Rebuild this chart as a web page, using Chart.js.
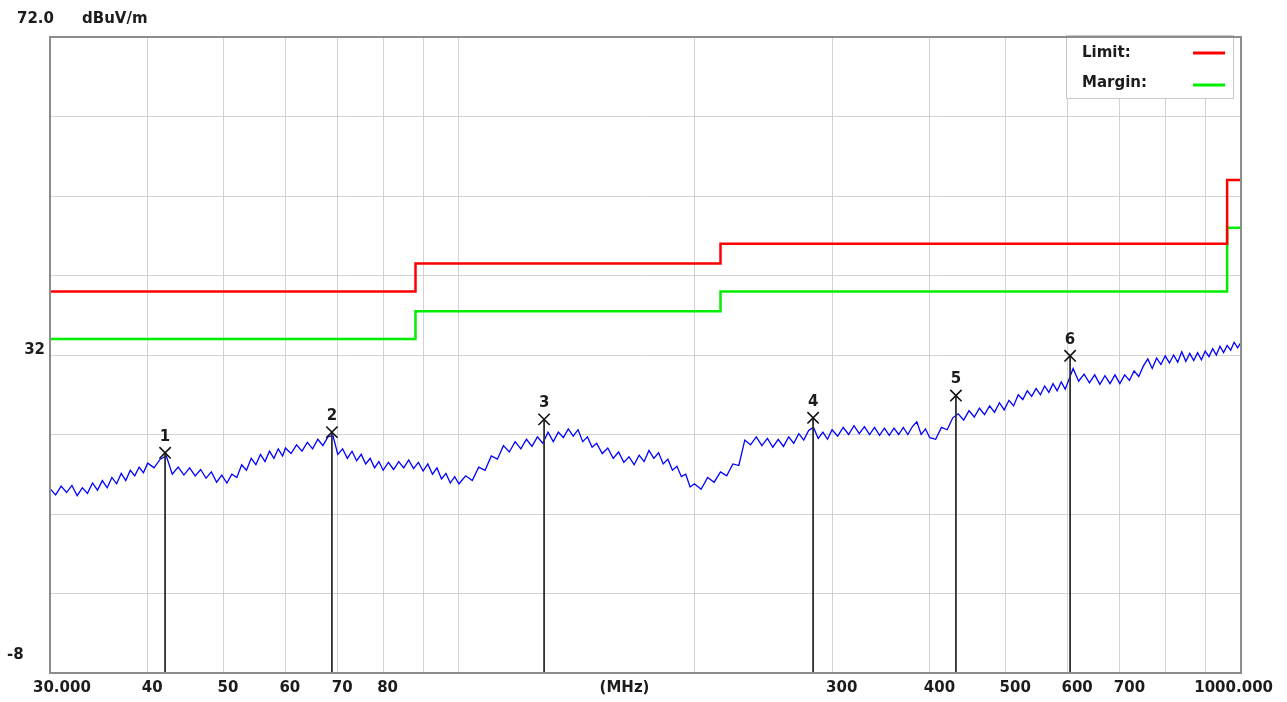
<!DOCTYPE html>
<html>
<head>
<meta charset="utf-8">
<script src="https://cdn.jsdelivr.net/npm/chart.js@4.4.1/dist/chart.umd.min.js"></script>
<style>
  html, body { margin: 0; padding: 0; background: #fff; }
  #wrap { width: 1287px; height: 702px; }
</style>
</head>
<body>
<div id="wrap"><canvas id="plot" width="1287" height="702"></canvas></div>
<script>
// grid + tick labels
const xGrid = [30, 40, 50, 60, 70, 80, 90, 100, 200, 300, 400, 500, 600, 700, 800, 900, 1000];
const xLabels = [[30, "30.000"], [40, "40"], [50, "50"], [60, "60"], [70, "70"], [80, "80"],
  [300, "300"], [400, "400"], [500, "500"], [600, "600"], [700, "700"], [1000, "1000.000"]];
const yGrid = [-8, 2, 12, 22, 32, 42, 52, 62, 72];

// limit / margin (dBuV/m)
const limitFreq = [30, 88, 216, 960, 1000];
const limitLevel = [40, 43.5, 46, 54, 54];
const marginLevel = [34, 37.5, 40, 48, 48];

// measured trace, 30-100 MHz
const freqLow = [30, 30.5, 31, 31.5, 32, 32.5, 33, 33.5, 34, 34.5, 35, 35.5, 36, 36.5, 37, 37.5, 38, 38.5, 39, 39.5, 40,
  40.75, 41.5, 42.25, 43, 43.75, 44.5, 45.25, 46, 46.75, 47.5, 48.25, 49, 49.75, 50.5, 51.25, 52, 52.75, 53.5, 54.25, 55, 55.75, 56.5, 57.25, 58, 58.75, 59.5,
  60, 61, 62, 63, 64, 65, 66, 67, 68, 69, 70, 71, 72, 73, 74, 75, 76, 77, 78, 79, 80,
  81.25, 82.5, 83.75, 85, 86.25, 87.5, 88.75, 90, 91.25, 92.5, 93.75, 95, 96.25, 97.5, 98.75, 100];
const levelLow = [15.2, 14.4, 15.5, 14.7, 15.6, 14.3, 15.3, 14.6, 15.9, 15.0, 16.2, 15.3, 16.6, 15.8, 17.1, 16.2, 17.5, 16.8, 17.9, 17.2, 18.4,
  17.8, 18.9, 19.3, 17.0, 17.9, 16.9, 17.8, 16.8, 17.6, 16.5, 17.3, 16.0, 16.9, 15.9, 17.0, 16.6, 18.2, 17.5, 19.0, 18.2, 19.5, 18.6, 19.9, 19.0, 20.2, 19.3,
  20.3, 19.6, 20.7, 19.9, 21.0, 20.2, 21.4, 20.6, 21.7, 21.9, 19.5, 20.2, 19.0, 19.9, 18.7, 19.5, 18.3, 19.0, 17.8, 18.6, 17.5,
  18.5, 17.6, 18.6, 17.8, 18.8, 17.7, 18.5, 17.4, 18.3, 17.0, 17.8, 16.4, 17.1, 15.9, 16.7, 15.8];

// 100-300 MHz
const freqMid = [102, 104, 106, 108, 110, 112, 114, 116, 118, 120, 122, 124, 126, 128, 130, 132, 134, 136, 138, 140, 142, 144, 146, 148, 150,
  152.5, 155, 157.5, 160, 162.5, 165, 167.5, 170, 172.5, 175, 177.5, 180, 182.5, 185, 187.5, 190, 192.5, 195, 197.5, 200,
  204, 208, 212, 216, 220, 224, 228, 232, 236, 240, 244, 248, 252, 256, 260, 264, 268, 272, 276, 280, 284, 288, 292, 296, 300];
const levelMid = [16.8, 16.2, 17.9, 17.5, 19.3, 18.9, 20.6, 19.8, 21.1, 20.2, 21.4, 20.5, 21.7, 20.9, 22.3, 21.1, 22.3, 21.6, 22.7, 21.8, 22.6, 21.1, 21.7, 20.4, 20.9,
  19.6, 20.3, 19.0, 19.8, 18.5, 19.2, 18.2, 19.4, 18.6, 20.0, 19.0, 19.7, 18.3, 18.9, 17.5, 18.0, 16.7, 17.0, 15.4, 15.8,
  15.1, 16.6, 16.0, 17.3, 16.8, 18.3, 18.1, 21.3, 20.7, 21.7, 20.6, 21.5, 20.4, 21.4, 20.5, 21.7, 20.9, 22.1, 21.3, 22.5, 22.9, 21.5, 22.3, 21.4, 22.6];

// 300-1000 MHz
const freqHigh = [305, 310, 315, 320, 325, 330, 335, 340, 345, 350, 355, 360, 365, 370, 375, 380, 385, 390, 395, 400,
  407, 414, 421, 428, 435, 442, 449, 456, 463, 470, 477, 484, 491, 498, 505, 512, 519, 526, 533, 540, 547, 554, 561, 568, 575, 582, 589, 596,
  610, 620, 630, 640, 650, 660, 670, 680, 690, 700, 710, 720, 730, 740, 750, 760, 770, 780, 790, 800,
  810, 820, 830, 840, 850, 860, 870, 880, 890, 900, 910, 920, 930, 940, 950, 960, 970, 980, 990, 1000];
const levelHigh = [21.8, 22.9, 22.0, 23.1, 22.1, 23.0, 22.0, 22.9, 21.9, 22.8, 21.9, 22.8, 22.0, 22.9, 22.0, 23.0, 23.6, 22.0, 22.7, 21.6,
  21.4, 22.9, 22.6, 24.1, 24.6, 23.8, 25.0, 24.2, 25.3, 24.5, 25.6, 24.8, 26.0, 25.1, 26.3, 25.6, 27.0, 26.4, 27.5, 26.8, 27.8, 27.0, 28.1, 27.3, 28.4, 27.5, 28.6, 27.7,
  30.3, 28.7, 29.6, 28.5, 29.5, 28.3, 29.4, 28.4, 29.5, 28.4, 29.5, 28.8, 30.0, 29.3, 30.6, 31.5, 30.3, 31.6, 30.8, 31.9,
  31.0, 32.0, 31.1, 32.4, 31.2, 32.2, 31.3, 32.3, 31.4, 32.5, 31.8, 32.8, 32.0, 33.1, 32.3, 33.2, 32.6, 33.6, 32.9, 33.6];

// peak markers
const markerFreq = [42.1, 68.8, 128.5, 283.7, 432, 604.6];
const markerLevel = [19.7, 22.3, 23.9, 24.1, 26.9, 31.9];
const markerName = ["1", "2", "3", "4", "5", "6"];

const FONT = 'bold 15px "DejaVu Sans"';
const TEXT = "#1c1c1c";

const pairs = (xs, ys) => xs.map((x, i) => ({ x, y: ys[i] }));
const trace = [].concat(pairs(freqLow, levelLow), pairs(freqMid, levelMid), pairs(freqHigh, levelHigh));

const markerLines = markerFreq.map((f, i) => ({
  data: [{ x: f, y: markerLevel[i] }, { x: f, y: yGrid[0] }],
  borderColor: "#303030",
  borderWidth: 1.8,
  pointRadius: 0,
}));

const decor = {
  id: "decor",
  afterDatasetsDraw(chart) {
    const { ctx, chartArea: a, scales } = chart;
    ctx.save();
    ctx.font = FONT;
    ctx.fillStyle = TEXT;
    ctx.textAlign = "center";
    ctx.textBaseline = "middle";
    markerFreq.forEach((f, i) => {
      ctx.fillText(markerName[i], scales.x.getPixelForValue(f), scales.y.getPixelForValue(markerLevel[i]) - 16);
    });

    // legend box
    const bx = a.right - 175, by = a.top - 2;
    ctx.fillStyle = "#fff";
    ctx.fillRect(bx, by, 167, 63);
    ctx.strokeStyle = "#c8c8c8";
    ctx.lineWidth = 1;
    ctx.strokeRect(bx + 0.5, by + 0.5, 167, 63);
    ctx.fillStyle = TEXT;
    ctx.textAlign = "left";
    ctx.fillText("Limit:", bx + 16, by + 18);
    ctx.fillText("Margin:", bx + 16, by + 48);
    ctx.lineWidth = 3;
    ctx.strokeStyle = "#ff0000";
    ctx.beginPath(); ctx.moveTo(bx + 127, by + 18); ctx.lineTo(bx + 159, by + 18); ctx.stroke();
    ctx.strokeStyle = "#00ee00";
    ctx.beginPath(); ctx.moveTo(bx + 127, by + 50); ctx.lineTo(bx + 159, by + 50); ctx.stroke();
    ctx.restore();
  },
  afterDraw(chart) {
    const { ctx, chartArea: a, scales } = chart;
    ctx.save();
    ctx.strokeStyle = "#8c8c8c";
    ctx.lineWidth = 2;
    ctx.strokeRect(a.left, a.top, a.right - a.left, a.bottom - a.top);

    ctx.font = FONT;
    ctx.fillStyle = TEXT;
    ctx.textBaseline = "middle";
    const ly = a.bottom + 15;
    xLabels.forEach(([v, t], i) => {
      const px = scales.x.getPixelForValue(v);
      if (i === 0) { ctx.textAlign = "left"; ctx.fillText(t, px - 17, ly); }
      else if (i === xLabels.length - 1) { ctx.textAlign = "right"; ctx.fillText(t, px + 32, ly); }
      else { ctx.textAlign = "left"; ctx.fillText(t, px - 6, ly); }
    });
    ctx.textAlign = "center";
    ctx.fillText("(MHz)", (a.left + a.right) / 2 - 21, ly);

    ctx.textAlign = "left";
    ctx.fillText("72.0", 17, a.top - 18);
    ctx.fillText("dBuV/m", 82, a.top - 18);
    ctx.textAlign = "right";
    ctx.fillText("32", 45, scales.y.getPixelForValue(32) - 5);
    ctx.textAlign = "left";
    ctx.fillText("-8", 7, a.bottom - 18);
    ctx.restore();
  },
};

new Chart(document.getElementById("plot"), {
  type: "line",
  data: {
    datasets: [
      {
        data: pairs(markerFreq, markerLevel),
        showLine: false,
        pointStyle: "crossRot",
        pointRadius: 8,
        borderColor: "#111",
        borderWidth: 1.6,
      },
      ...markerLines,
      { data: trace, borderColor: "#0000ff", borderWidth: 1.3, pointRadius: 0, tension: 0 },
      { data: pairs(limitFreq, limitLevel), borderColor: "#ff0000", borderWidth: 2.5, pointRadius: 0, stepped: "before" },
      { data: pairs(limitFreq, marginLevel), borderColor: "#00ee00", borderWidth: 2.5, pointRadius: 0, stepped: "before" },
    ],
  },
  options: {
    responsive: false,
    devicePixelRatio: 1,
    animation: false,
    events: [],
    layout: { padding: { left: 50, right: 46, top: 37, bottom: 29 } },
    plugins: { legend: { display: false }, tooltip: { enabled: false } },
    scales: {
      x: {
        type: "logarithmic",
        min: 30,
        max: 1000,
        afterBuildTicks: (s) => { s.ticks = xGrid.map((v) => ({ value: v })); },
        ticks: { display: false },
        grid: { color: "#d2d2d2", lineWidth: 1, drawTicks: false },
        border: { display: false },
      },
      y: {
        min: -8,
        max: 72,
        afterBuildTicks: (s) => { s.ticks = yGrid.map((v) => ({ value: v })); },
        ticks: { display: false },
        grid: { color: "#d2d2d2", lineWidth: 1, drawTicks: false },
        border: { display: false },
      },
    },
  },
  plugins: [decor],
});
</script>
</body>
</html>
